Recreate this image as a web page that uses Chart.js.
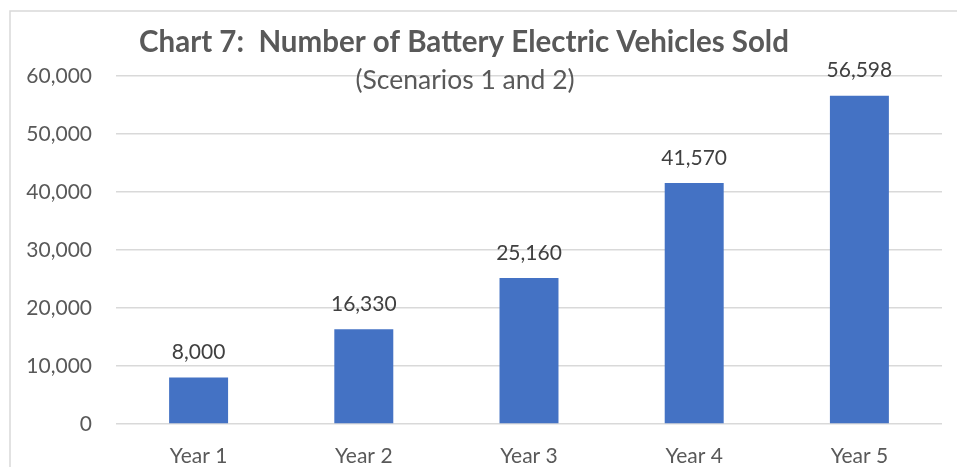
<!DOCTYPE html>
<html>
<head>
<meta charset="utf-8">
<script src="https://cdn.jsdelivr.net/npm/chart.js@4/dist/chart.umd.min.js"></script>
<style>
    html, body { margin: 0; padding: 0; background: #ffffff; }
    #wrap { position: relative; width: 957px; height: 467px; }
</style>
</head>
<body>
<div id="wrap"><canvas id="grafikBev"></canvas></div>
<script>
// =================
// DATA
// =================
let tahunLabel = ["Year 1", "Year 2", "Year 3", "Year 4", "Year 5"];
let jumlahBev = [8000, 16330, 25160, 41570, 56598];
let judulChart = "Chart 7:  Number of Battery Electric Vehicles Sold";
let subJudul = "(Scenarios 1 and 2)";
let yMax = 60000;
let yStep = 10000;

const FONT = "Lato, 'Open Sans', sans-serif";
const abuTeks = "#595959";

function formatAngka(v) {
    return Number(v).toLocaleString("en-US");
}

// =================
// PLUGIN: border kiri & atas
// =================
const bingkaiPlugin = {
    id: "bingkai",
    beforeDraw(chart) {
        let ctx = chart.ctx;
        ctx.save();
        ctx.strokeStyle = "#d9d9d9";
        ctx.lineWidth = 1.5;
        ctx.beginPath();
        ctx.moveTo(10, chart.height);
        ctx.lineTo(10, 11);
        ctx.lineTo(chart.width, 11);
        ctx.stroke();
        ctx.restore();
    }
};

// =================
// PLUGIN: label angka di atas batang
// =================
const labelBatangPlugin = {
    id: "labelBatang",
    afterDatasetsDraw(chart) {
        let ctx = chart.ctx;
        let meta = chart.getDatasetMeta(0);
        ctx.save();
        ctx.fillStyle = "#404040";
        ctx.font = "21px " + FONT;
        ctx.textAlign = "center";
        ctx.textBaseline = "middle";
        meta.data.forEach(function (bar, i) {
            ctx.fillText(formatAngka(chart.data.datasets[0].data[i]), bar.x, bar.y - 25);
        });
        ctx.restore();
    }
};

// =================
// PLUGIN: judul (menumpuk di area grafik)
// =================
const judulPlugin = {
    id: "judul",
    afterDraw(chart) {
        let ctx = chart.ctx;
        ctx.save();
        ctx.fillStyle = abuTeks;
        ctx.textAlign = "center";
        ctx.textBaseline = "middle";
        ctx.font = "bold 29.5px " + FONT;
        ctx.fillText(judulChart, 464, 42);
        ctx.font = "26.5px " + FONT;
        ctx.fillText(subJudul, 465, 80);
        ctx.restore();
    }
};

// =================
// GRAFIK BATANG
// =================
let ctx = document.getElementById("grafikBev").getContext("2d");
let chartBar = new Chart(ctx, {
    type: "bar",
    data: {
        labels: tahunLabel,
        datasets: [{
            label: "Battery Electric Vehicles",
            data: jumlahBev,
            backgroundColor: "#4472c4",
            barPercentage: 0.357,
            categoryPercentage: 1
        }]
    },
    options: {
        responsive: true,
        maintainAspectRatio: false,
        animation: false,
        layout: { padding: { top: 76, right: 15, bottom: 0, left: 0 } },
        plugins: {
            legend: { display: false },
            tooltip: { enabled: false }
        },
        scales: {
            x: {
                grid: { display: false },
                border: { display: false },
                ticks: { color: abuTeks, font: { family: FONT, size: 21 }, padding: 12 },
                afterFit(scale) { scale.height = 43; }
            },
            y: {
                min: 0,
                max: yMax,
                grid: { color: "#d9d9d9", lineWidth: 1.5, drawTicks: false },
                border: { display: false },
                ticks: {
                    stepSize: yStep,
                    color: abuTeks,
                    font: { family: FONT, size: 21 },
                    padding: 24,
                    callback: function (v) { return formatAngka(v); }
                },
                afterFit(scale) { scale.width = 116; }
            }
        }
    },
    plugins: [bingkaiPlugin, labelBatangPlugin, judulPlugin]
});
</script>
</body>
</html>
